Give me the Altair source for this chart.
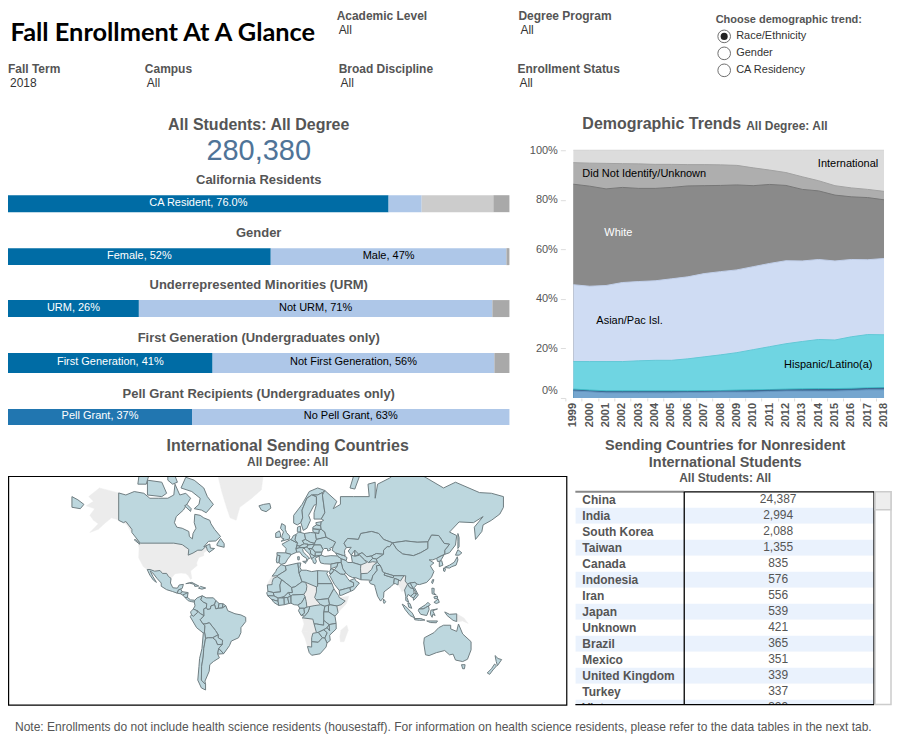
import math
import altair as alt

FONT = "Liberation Sans"
GREY_TXT = "#555555"
DARK_TXT = "#333333"

# ---------- values ----------
title_text = "Fall Enrollment At A Glance"
filters = [("Academic Level", "All", 329, 8), ("Degree Program", "All", 511, 8),
           ("Fall Term", "2018", 0, 61), ("Campus", "All", 137, 61),
           ("Broad Discipline", "All", 331, 61), ("Enrollment Status", "All", 510, 61)]
radio_title = "Choose demographic trend:"
radio_options = ["Race/Ethnicity", "Gender", "CA Residency"]
total_title = "All Students: All Degree"
total_value = "280,380"

BLUE, LIGHT, MID, DGREY, PELL = "#006ca5", "#aec7e8", "#cccccc", "#a9a9a9", "#2176b0"
ca_shares = [75.9, 6.6, 14.3, 3.2]
ca_labels = ["CA Resident, 76.0%", "", "", ""]
ca_colors = [BLUE, LIGHT, MID, DGREY]
gender_shares = [52.4, 47.0, 0.6]
gender_labels = ["Female, 52%", "Male, 47%", ""]
gender_colors = [BLUE, LIGHT, DGREY]
urm_shares = [26.1, 70.5, 3.4]
urm_labels = ["URM, 26%", "Not URM, 71%", ""]
urm_colors = [BLUE, LIGHT, DGREY]
first_shares = [40.8, 56.2, 3.0]
first_labels = ["First Generation, 41%", "Not First Generation, 56%", ""]
first_colors = [BLUE, LIGHT, DGREY]
pell_shares = [36.7, 63.3]
pell_labels = ["Pell Grant, 37%", "No Pell Grant, 63%"]
pell_colors = [PELL, LIGHT]

years = list(range(1999, 2019))
top_international = [100] * 20
top_unknown = [95.0, 94.8, 94.7, 94.6, 94.5, 94.3, 94.3, 94.2, 94.2, 94.1, 93.9, 92.9, 92.0, 91.0, 89.3, 87.7, 85.7, 84.8, 84.2, 83.4]
top_white = [86.3, 85.5, 84.4, 85.0, 84.6, 84.6, 85.0, 85.6, 85.7, 85.8, 86.0, 85.7, 86.2, 85.8, 84.2, 83.6, 81.9, 81.2, 80.9, 80.0]
top_asian = [45.7, 45.1, 45.4, 46.6, 47.0, 47.3, 48.1, 48.9, 50.2, 51.0, 51.7, 53.0, 54.3, 55.4, 55.3, 55.9, 55.3, 55.9, 55.8, 56.3]
top_hispanic = [14.7, 14.7, 14.7, 14.7, 15.0, 15.2, 15.2, 15.8, 16.6, 17.4, 18.3, 19.5, 20.7, 21.9, 22.8, 23.6, 23.4, 24.7, 25.6, 25.5]
top_native = [3.6, 3.2, 2.9, 2.9, 2.9, 2.9, 2.9, 2.9, 3.0, 3.0, 3.2, 3.3, 3.4, 3.6, 3.7, 3.8, 3.8, 3.9, 4.1, 4.2]
top_dark = [3.2, 2.8, 2.5, 2.5, 2.5, 2.5, 2.5, 2.5, 2.6, 2.7, 2.8, 2.9, 3.1, 3.2, 3.3, 3.4, 3.4, 3.5, 3.8, 3.9]
top_black = [2.8, 2.5, 2.1, 2.1, 2.1, 2.1, 2.1, 2.2, 2.3, 2.4, 2.4, 2.4, 2.6, 2.8, 2.8, 2.8, 2.8, 3.0, 3.3, 3.3]
area_series = [(top_international, "#dcdcdc", "#d2d2d2"), (top_unknown, "#aeaeae", "#a2a2a2"),
               (top_white, "#8a8a8a", "#767676"), (top_asian, "#cfdcf3", "#c2d0ea"),
               (top_hispanic, "#6fd5e2", "#62c8d6"), (top_native, "#3fbac6", "#3fbac6"),
               (top_dark, "#3b6791", "#3b6791"), (top_black, "#75a6cf", "#6596c2")]
area_labels = [("International", 275, 14, "center", "black"), ("Did Not Identify/Unknown", 9, 24, "left", "black"),
               ("White", 31, 83, "left", "white"), ("Asian/Pac Isl.", 23, 171, "left", "black"),
               ("Hispanic/Latino(a)", 211, 215, "left", "black")]

table_countries = ["China", "India", "South Korea", "Taiwan", "Canada", "Indonesia", "Iran", "Japan",
                   "Unknown", "Brazil", "Mexico", "United Kingdom", "Turkey", "Vietnam"]
table_counts = ["24,387", "2,994", "2,088", "1,355", "835", "576", "556", "539", "421", "365", "351", "339", "337", "329"]
footnote = "Note: Enrollments do not include health science residents (housestaff). For information on health science residents, please refer to the data tables in the next tab."

# Map outlines: longitude / latitude
grey_lands = [
 [(-123,49),(-95,49),(-88,48.2),(-82.5,45.5),(-83,42),(-79,43.3),(-75,45),(-71.5,45),(-68,47.3),(-67,45),(-70,43.5),(-70,41.7),(-74,40.6),(-76,37),(-75.5,35.3),(-81,31.5),(-80,26),(-81,25.2),(-82.8,28),(-85,29.7),(-89,30),(-94,29.5),(-97.3,26),(-99.5,27.5),(-101,29.7),(-104.5,29.7),(-106.5,31.8),(-111,31.3),(-114.8,32.5),(-117.2,32.5),(-120.5,34.5),(-122.5,37.7),(-124.3,40.3),(-124,46.3),(-124.7,48.4)],
 [(-141,69.6),(-141,60),(-137,59),(-135,59.5),(-130,56),(-131,55),(-134,58),(-140,60),(-147,61),(-152,59),(-158,56),(-165,54.5),(-158,58.5),(-162,60),(-165,62),(-161,64.5),(-168,65.5),(-162,67),(-166,68.5),(-157,71),(-150,70.4)],
 [(-73,78),(-60,76),(-55,70),(-51,65),(-48,61),(-43,60),(-40,65),(-30,68),(-22,70.5),(-20,75),(-18,80),(-30,83.5),(-60,82.5)],
 [(-17,21),(-13,21.3),(-13,23),(-12,26),(-8.7,27.3),(-8.7,28),(-13,27.7),(-16,23.5)],
 [(61,35.6),(66,37.3),(71,37.8),(74.9,37.4),(71.5,35.5),(70,32.5),(66.5,29.8),(61,29.5),(60.8,33)],
 [(92,21),(92.5,25),(94,24),(97,28),(98.5,28),(98,24),(100,21.7),(97.5,17),(98.5,12),(97.5,16.5),(95,15.8),(94,18.5)],
 [(141,-2.6),(147,-6),(150.5,-10.5),(146,-8.5),(143,-9),(141,-9)],
 [(15,23),(24,19.5),(24,15.5),(22.5,11),(19,9),(15.5,7.5),(14.5,11.5),(13.5,13.5),(15.5,16.5),(16,20)],
 [(15.5,7.5),(19,9),(22.5,11),(24,9),(27.5,5),(22,4.2),(16,3)],
 [(43,11),(51,12),(49,6),(42,-1.5),(41,4),(44.5,5),(48,8)],
 [(12.2,-6),(13,-6),(21,-7),(22,-11),(24,-11),(24,-18),(13,-17),(11.8,-17),(13.7,-11)],
 [(11.8,-17),(13,-17),(24,-18),(21,-18.5),(20,-22),(20,-29),(16.5,-28.6),(14.5,-22.5)],
 [(49.3,-12),(50.5,-16),(47,-25),(44,-25),(43.5,-21),(44.5,-16)],
]
americas = [
 [(-141,69.6),(-135,69),(-128,70),(-120,69.5),(-115,68),(-108,68),(-100,68),(-95,69),(-94,72),(-90,69),(-85,69.5),(-81,68),(-87,64),(-93,61.5),(-94.5,59),(-92.5,57),(-88,56.5),(-82.5,55),(-82,52.5),(-79.5,51.3),(-79,54),(-76.5,56.5),(-78,59),(-77.5,62.4),(-73,62),(-70,61),(-65,60),(-64,58.5),(-61,56),(-56,52.5),(-60,50.2),(-66,50),(-70,47),(-65,48.5),(-64.5,46.2),(-61,46),(-65.5,43.7),(-67,45),(-68,47.3),(-71.5,45),(-75,45),(-79,43.3),(-83,42),(-82.5,45.5),(-88,48.2),(-95,49),(-123,49),(-130,54.5),(-130,56),(-135,59.5),(-137,59),(-141,60)],
 [(-62,66),(-68,63),(-72,64),(-78,64.5),(-74,66),(-73,68),(-80,70),(-89,71),(-85,73.7),(-78,73),(-70,71),(-67,68.5)],
 [(-117,69),(-105,68.5),(-101,69.5),(-105,72.5),(-117,73)],
 [(-90,76.5),(-80,76.5),(-75,79),(-62,82.5),(-72,83),(-90,81.5)],
 [(-92,74.5),(-80,74.5),(-80,75.8),(-92,76.5)],
 [(-125,72),(-118,72),(-116,74),(-124,74.2)],
 [(-100,73),(-96,72),(-92,72.5),(-94,74),(-100,74)],
 [(-86,65.5),(-81,63.5),(-80.5,64.5),(-84,66)],
 [(-59,47.7),(-53,46.7),(-53,48.7),(-56,51.5),(-59,48.5)],
 [(-128,50.8),(-123.5,48.4),(-124,49.5),(-127,51)],
 [(-117.2,32.5),(-114.8,32.5),(-111,31.3),(-106.5,31.8),(-104.5,29.7),(-101,29.7),(-99.5,27.5),(-97.3,26),(-97.8,22.5),(-95.8,18.8),(-92,18.5),(-90.5,21),(-87,21.5),(-88,18.3),(-89.2,17.8),(-91,17.2),(-92.2,14.5),(-96,15.8),(-101,17.3),(-105.5,20),(-105.5,22.5),(-109,26),(-112.5,30),(-114.7,31.5),(-112.5,27.5),(-109.5,23),(-112,24.7),(-115,28.5)],
 [(-92.2,14.5),(-91,17.2),(-89.2,17.8),(-88.2,15.7),(-89.5,14)],
 [(-89.5,14),(-88.2,15.7),(-83.2,15),(-83.7,13),(-87.5,13)],
 [(-87.5,13),(-83.2,15),(-83.6,11),(-85.7,11)],
 [(-85.7,11),(-83.6,11),(-81,9),(-77.5,8.7),(-77.9,7.2),(-80,7.5),(-83,8.3)],
 [(-85,22),(-80,23),(-74.2,20.2),(-77.5,19.9),(-78,21.5),(-82,22.5)],
 [(-74.4,18.5),(-72.7,19.9),(-68.4,18.6),(-71.5,17.7)],
 [(-77.9,7.2),(-77.5,8.7),(-75.5,10.7),(-71.3,12.4),(-72.5,9),(-70,7),(-67.5,6),(-67.8,2.5),(-70,1.5),(-69.8,-4.2),(-73,-2.3),(-75.5,0),(-78.8,1.4),(-77.3,4)],
 [(-71.3,12.4),(-68,10.7),(-62,10.7),(-60,8.5),(-61,5),(-64,4),(-64.5,1.5),(-67,1),(-67.8,2.5),(-67.5,6),(-70,7),(-72.5,9)],
 [(-60,8.5),(-57.2,6),(-58,2),(-60,1.5),(-61,5)],
 [(-57.2,6),(-54,5.8),(-54.5,2.3),(-58,2)],
 [(-54,5.8),(-51.6,4.2),(-54.5,2.3)],
 [(-78.8,1.4),(-75.5,0),(-75.3,-1.6),(-78.7,-4.7),(-80.3,-3.4),(-81,-1)],
 [(-80.3,-3.4),(-78.7,-4.7),(-75.3,-1.6),(-75.5,0),(-73,-2.3),(-69.8,-4.2),(-73,-7.5),(-70.5,-11),(-69,-12.5),(-69.4,-17.5),(-70.4,-18.3),(-76,-14),(-81.3,-5)],
 [(-69.8,-4.2),(-70,1.5),(-67.8,2.5),(-67,1),(-64.5,1.5),(-64,4),(-61,5),(-60,1.5),(-58,2),(-54.5,2.3),(-51.6,4.2),(-50,0),(-44,-2.5),(-39,-3.5),(-35,-5.5),(-35,-9),(-39,-14),(-39,-18),(-41,-22),(-47,-24.5),(-48.6,-28),(-53.4,-33.7),(-57.6,-30),(-54.6,-27),(-54.5,-25.5),(-54.3,-24),(-58,-22),(-58,-19.7),(-60.2,-16.3),(-65.3,-10),(-69,-11),(-70.5,-11),(-73,-7.5)],
 [(-69,-12.5),(-70.5,-11),(-69,-11),(-65.3,-10),(-60.2,-16.3),(-58,-19.7),(-62.6,-22),(-66.3,-22),(-68.5,-22.5),(-69.4,-17.5)],
 [(-58,-19.7),(-58,-22),(-54.3,-24),(-54.5,-25.5),(-54.6,-27),(-58.6,-27.2),(-60,-24),(-62.6,-22)],
 [(-70.4,-18.3),(-69.4,-17.5),(-68.5,-22.5),(-70,-30),(-70.5,-36),(-71.8,-42),(-72,-50),(-68.5,-52.3),(-68.5,-55),(-72,-54),(-75,-50),(-74,-42),(-73.5,-37),(-71.5,-30)],
 [(-66.3,-22),(-62.6,-22),(-60,-24),(-58.6,-27.2),(-54.6,-27),(-57.6,-30),(-58.4,-34),(-57,-36.5),(-62,-39),(-65,-41),(-65.5,-45),(-69,-50.5),(-68.5,-52.3),(-72,-50),(-71.8,-42),(-70.5,-36),(-70,-30),(-68.5,-22.5)],
 [(-57.6,-30),(-53.4,-33.7),(-58.4,-34)],
]
europe = [
 [(-24,65.5),(-22,64),(-18,63.4),(-14,64.7),(-15,66.3),(-20,66)],
 [(-5.5,50),(1.3,51.2),(1.7,52.7),(-1,54.5),(-2,56),(-2,57.7),(-5,58.6),(-6,56.5),(-3.5,54.8),(-4.8,52.8),(-5,51.7),(-3,51.3)],
 [(-10,52),(-6,52.2),(-6,54),(-7,55.3),(-10,54.2)],
 [(-1.8,43.4),(3.1,42.4),(7.5,43.8),(7,45.9),(7.6,47.6),(8.2,49),(2.5,51),(-1.5,49.6),(-4.8,48.4),(-1.2,46)],
 [(-9,43.5),(-1.8,43.4),(3.1,42.4),(0,39.5),(-2,36.8),(-5.5,36),(-7.4,37.2),(-6.5,41.7),(-8.8,42)],
 [(-8.8,42),(-6.5,41.7),(-7.4,37.2),(-9,37),(-9.5,38.8)],
 [(7,53.5),(9,54.8),(14,54),(15,51),(12.2,50.3),(13.8,48.7),(10,47.4),(7.6,47.6),(8.2,49),(6,50.8)],
 [(2.5,51),(3.4,51.4),(4.8,53),(7,53.5),(6,50.8),(8.2,49)],
 [(7,45.9),(10.3,46.5),(10,47.4),(7.6,47.6)],
 [(7.5,43.8),(10,44),(12.5,41.5),(15.7,40),(16,38),(16.8,39.5),(18.4,40),(16,41.7),(13,44),(12.5,45.5),(13.7,46.5),(10.3,46.5),(7,45.9)],
 [(12.5,38),(15.5,38.2),(15,36.7)],
 [(8.3,41),(9.7,41),(9.6,39),(8.5,39)],
 [(10,47.4),(13.8,48.7),(17,48.5),(16,46.8),(13.7,46.5),(10.3,46.5)],
 [(12.2,50.3),(15,51),(19,49.5),(22.5,49),(22,48.4),(17,48),(17,48.5),(13.8,48.7)],
 [(14,54),(19,54.5),(23,54.3),(24,51),(22.5,49),(19,49.5),(15,51)],
 [(8,55),(9,54.8),(11,54.8),(10.5,57.5),(8.2,57)],
 [(5,58.8),(8,58),(11,59),(12.5,61),(12,64),(16,68),(20,69),(25,69),(29,69.7),(31,70.3),(25,71),(18,70),(12,66),(5,62)],
 [(11,59),(13,55.5),(16,56.5),(19,60),(17.5,62),(22,65.7),(24,66),(24,68.5),(20,69),(16,68),(12,64),(12.5,61)],
 [(22,60.5),(28,60.5),(31,63),(29,69),(29,69.7),(25,69),(21,69),(24,68.5),(24,66),(22,63)],
 [(23.5,59),(28,59.4),(27.5,57.6),(24,58)],
 [(21,57),(24,58),(27.5,57.6),(28,56),(21,56.2)],
 [(21,56.2),(26.5,55.8),(26,54),(23,54.3),(21,55)],
 [(23,54.3),(26,54),(26.5,55.8),(28,56),(31,54.7),(32,52.2),(24,51)],
 [(24,51),(32,52.2),(40,49.6),(38,47),(35,46),(36,45.2),(33.5,44.5),(33,46),(30.5,46),(29.5,45.3),(27.5,48),(22.5,48),(22.5,49)],
 [(22,48),(27.5,48),(29.5,45.3),(28.6,43.8),(23,43.8),(20.3,46)],
 [(16,46.8),(17,48),(22,48.4),(22,48),(20.3,46),(17,46)],
 [(23,43.8),(28.6,43.8),(28,42),(22.7,41.3)],
 [(13.7,46.5),(16,46.8),(17,46),(19,45),(19,43),(18.5,42.4),(14.5,45.2)],
 [(19,45),(20.3,46),(23,43.8),(22.7,41.3),(20.5,42.2),(19,43)],
 [(18.5,42.4),(19,43),(20.5,42.2),(22.7,41.3),(20.5,40),(19.4,40.3)],
 [(19.4,40),(20.5,40),(22.7,41.3),(26.3,41.5),(23,40),(24,38),(23,36.5),(21.5,37),(21,38.5)],
 [(26.3,41.5),(28,42),(31,41.2),(36,41.7),(41.5,41.5),(44.7,39.7),(44.7,37.2),(42,37.2),(36,36.2),(30.5,36.4),(27.5,37),(26.3,39.5)],
 [(40,43.4),(46.5,41.8),(49.5,40.5),(48.8,38.5),(44.7,39.7),(41.5,41.5)],
]
north_asia = [
 [(28,59.4),(30,60),(28,60.5),(31,63),(29,69),(31,70.3),(41,67),(38,64.5),(44,66),(44,68.5),(55,68.5),(68,68.5),(67,72),(73,72.5),(73,68),(75,72),(85,73.5),(100,76.5),(113,74),(130,71),(140,72.5),(160,69.7),(170,69.5),(180,68.5),(180,65),(177,62.5),(170,60),(163,58),(162,55),(156.7,51),(155.7,57),(163,61.5),(155,59),(143,59.3),(135,54.7),(141,53),(140,48),(135,43.5),(131,42.5),(131,45),(135,48.4),(130.5,48.9),(126,53),(120,53.2),(117,49.7),(108,49.5),(98.5,50.2),(87.5,49.2),(80,51),(76,54),(70,55),(61,54),(59,51),(50,51.5),(47,49),(49,46.5),(47.5,45),(47.5,43),(48,41.8),(46.5,41.8),(40,43.4),(37,45),(38,47),(40,49.6),(32,52.2),(31,54.7),(28,56),(27.5,57.6)],
 [(-180,68.5),(-175,67.5),(-170,66),(-173,64.5),(-180,65)],
 [(142,54),(143,52),(143,47),(142,46),(142,50)],
 [(52,71),(56,70.7),(60,74),(55,74)],
 [(47,49),(50,51.5),(59,51),(61,54),(70,55),(76,54),(80,51),(87.5,49.2),(85,47),(83,47),(80,45),(80,42.5),(74,43),(70,41.5),(66,41),(62,43.5),(56,41.3),(56,45),(53,42),(50.5,44.5),(53,46.7),(49,46.5)],
 [(56,45),(56,41.3),(62,43.5),(66,41),(70,41.5),(71,40),(67.5,37.3),(64,39),(60,42)],
 [(53,42),(56,41.3),(60,42),(64,39),(66,37.3),(61,35.6),(54,37.3)],
 [(70,41.5),(74,43),(80,42.5),(74,39.5),(71,40)],
 [(67.5,37.3),(71,40),(74,39.5),(74.9,37.4),(71,37.8)],
 [(87.5,49.2),(98.5,50.2),(108,49.5),(117,49.7),(117,46),(111,43.5),(105,41.7),(96,42.7),(91,45.5)],
 [(74,39.5),(80,42.5),(80,45),(83,47),(85,47),(87.5,49.2),(91,45.5),(96,42.7),(105,41.7),(111,43.5),(117,46),(117,49.7),(120,53.2),(126,53),(130.5,48.9),(135,48.4),(131,45),(131,42.5),(128,41.5),(124.3,40),(121,39),(118,39),(122,37),(119,35),(122,31),(120,27),(116,23),(110,21.3),(108,21.6),(106,23),(102,22.5),(100,21.7),(98,24),(98.5,28),(97,28),(92,28),(88.5,28),(81,30),(79,31),(78.5,33),(77,35.5),(74.9,37.4)],
 [(124.3,40),(128,41.5),(130.5,42.3),(128,39),(126.5,38),(125,38)],
 [(126.5,38),(128.5,38.5),(129.5,35.5),(126.5,34.5)],
 [(130.9,34),(135,35.5),(139,37.5),(141.5,41),(142,39),(140.5,35.5),(137,34.5),(135,33.5),(132,33.8)],
 [(140,42),(142,45.3),(145.3,43.4),(143,42)],
 [(130,33.5),(131.7,33),(131,31),(130,31.5)],
 [(121,25.2),(122,25),(120.8,22),(120,23)],
]
south_asia = [
 [(61,29.5),(61,25),(67,24.8),(70,24.5),(71,28),(74.7,32),(74,35),(77,35.5),(74.9,37.4),(71.5,35.5),(70,32.5),(66.5,29.8)],
 [(44.7,39.7),(48.8,38.5),(50,37.3),(54,37.3),(61,35.6),(60.8,33),(61,29.5),(61,25),(57,26.5),(54,26.7),(51,28),(48.5,30),(46,33),(44.7,37.2)],
 [(44.7,37.2),(46,33),(48.5,30),(46.5,29),(44,29.2),(39,32.3),(41,34.5),(42,37.2)],
 [(36,36.2),(42,37.2),(41,34.5),(36,33)],
 [(35,31),(36,33),(39,32.3),(37,30),(35,29.5)],
 [(35,28.2),(37,30),(39,32.3),(44,29.2),(46.5,29),(48,28.7),(50,26),(51.5,24.3),(55,22.8),(55,20),(52,19),(48,18),(43,16.7),(39,21.5)],
 [(43,16.7),(48,18),(52,19),(52.5,16),(45,12.8),(43.4,12.7)],
 [(51.5,24.3),(56,26),(56.5,24.5),(59.8,22.5),(55,17),(52.5,16),(52,19),(55,20),(55,22.8)],
 [(68,23.7),(70,24.5),(71,28),(74.7,32),(74,35),(77,35.5),(78.5,33),(79,31),(81,30),(80.5,28.5),(88,26.5),(88.5,28),(92,28),(97,28),(94,24),(92.5,25),(89,26),(88.5,22),(86.5,20),(80.3,15.5),(80,11),(77.5,8),(75,12),(73,19),(72.5,21),(69,22)],
 [(88.5,22),(89,26),(92.5,25),(92,21),(90,22)],
 [(80.5,28.5),(81,30),(88.5,28),(88,26.5)],
 [(80,9.7),(81.8,7.5),(80.5,6),(79.8,7.5)],
 [(100,21.7),(102,19),(105,18),(105.5,14.5),(102.5,12),(100.5,13.5),(99.5,11),(101,7),(98.5,8.5),(98.5,12),(97.5,17)],
 [(102,22.5),(106,23),(108,21.6),(105.7,19),(109,13),(107,10.5),(105,8.7),(104.8,10.5),(107.5,14),(105,18)],
 [(100,21.7),(102,22.5),(105,18),(102,19)],
 [(102.5,12),(105.5,14.5),(107.5,14),(104.8,10.5)],
 [(100.2,6.5),(102,6),(103.5,2),(101,3)],
 [(109.5,1.5),(115,5),(117,7),(119,5),(117.5,4),(115,2.5),(113,1.5)],
 [(109.5,1.5),(113,1.5),(115,2.5),(117.5,4),(118,1),(116,-4),(111,-3),(109,0)],
 [(95.5,5.5),(98,4),(104,-2),(106,-6),(102,-4),(98,1)],
 [(105.5,-6.5),(111,-6.5),(114.5,-7.8),(110,-8),(106,-7.5)],
 [(119.5,0.5),(125,1.5),(121,0),(123,-4),(121,-3),(120.5,-5.5),(119,-3)],
 [(120.3,18.5),(122.2,18.3),(122,14.5),(124,13),(120.5,14)],
 [(122,7),(125.5,9.7),(126.5,7),(124,6)],
 [(122,11.5),(125,12),(125,10),(122.5,10)],
 [(116,-8.5),(125,-8.5),(124,-10),(119,-9.8)],
 [(131,-1),(135,-3),(141,-2.6),(141,-9),(138,-8),(133,-4)],
 [(114,-22),(113.5,-26),(115,-34.5),(118,-35),(124,-33),(131,-31.5),(135,-34.5),(138,-34),(140,-38),(146,-39),(150,-37.5),(153,-31),(153,-25),(146,-19),(142.5,-11),(141,-17),(136,-15),(136,-12),(130,-12),(126,-14),(122,-18)],
 [(145,-41),(148,-41),(147.5,-43.5),(146,-43.5)],
 [(166.5,-46),(168.5,-46.8),(171.3,-44.2),(174.3,-41.7),(172.6,-40.6),(170,-43.5)],
 [(173,-35),(175.5,-37),(178.5,-37.7),(175,-41.6),(174,-39)],
]
africa = [
 [(-13,27.7),(-10,31),(-9,33),(-5.5,35.8),(-2,35),(-1.2,32),(-5,30),(-8.7,28)],
 [(-2,35),(-1.2,32),(-5,30),(-8.7,28),(-8.7,27.3),(-5,25),(3.3,19),(6,19.5),(12,23.5),(9.5,30),(8.5,36.9)],
 [(8.5,36.9),(11,37),(10.2,34),(11.5,32),(9.5,30)],
 [(9.5,30),(11.5,32),(15.5,32),(20,31),(25,31.7),(25,20),(24,19.5),(15,23),(12,23.5)],
 [(25,31.7),(34,31.3),(32.5,29.8),(34,27),(37,22),(25,22)],
 [(-17,21),(-13,21.3),(-13,23),(-12,26),(-8.7,27.3),(-5,25),(-6.5,21),(-6,15.5),(-12,15),(-16.5,16)],
 [(-5,25),(3.3,19),(4,15),(0.5,15),(-3,11.7),(-8,10.5),(-11.5,12.3),(-12,15),(-6,15.5),(-6.5,21)],
 [(3.3,19),(6,19.5),(12,23.5),(15,23),(16,20),(15.5,16.5),(13.5,13.5),(4,13),(2.5,12),(0.5,15),(4,15)],
 [(2.7,12),(4,13),(13.5,13.5),(14.5,11.5),(11.5,6.5),(8.5,4.7),(5.5,5),(2.7,6.3)],
 [(24,19.5),(25,20),(25,22),(37,22),(38.5,18),(36.5,14.5),(34,10),(24,9),(22.5,11),(24,15.5)],
 [(24,9),(34,10),(35,5),(31,3.7),(27.5,5)],
 [(36.5,14.5),(38.5,18),(42.5,12.5),(43,11),(48,8),(44.5,5),(41,4),(35,5),(34,10)],
 [(35,5),(41,4),(42,-1.5),(39.5,-4.6),(34,-1),(34,4)],
 [(31,3.7),(35,5),(34,4),(34,-1),(30,-1)],
 [(30,-1),(34,-1),(39.5,-4.6),(40.4,-10.5),(34.5,-11.5),(30,-8)],
 [(18.5,3.5),(22,4.2),(27.5,5),(31,3.7),(30,-1),(30,-8),(30,-12),(24,-11),(22,-11),(21,-7),(13,-6),(12.2,-6),(14,-4.5),(17,-1)],
 [(11.2,-4),(14,-4.5),(17,-1),(18.5,3.5),(16,3),(14,2.2),(13.5,1.3),(14,-2)],
 [(9,0),(10,2.2),(14,2.2),(13.5,1.3),(14,-2),(11.2,-4)],
 [(8.5,4.7),(11.5,6.5),(14.5,11.5),(15.5,7.5),(16,3),(14,2.2),(10,2.2)],
 [(-17.5,14.7),(-16.5,16),(-12,15),(-11.5,12.3),(-16.7,12.4)],
 [(-16.7,12.4),(-11.5,12.3),(-8,10.5),(-8,8),(-10.5,8.5),(-13.5,9.5)],
 [(-13.5,9.5),(-10.5,8.5),(-8,8),(-7.5,4.4),(-11.5,6.9)],
 [(-8,8),(-8,10.5),(-5,10.7),(-3,10.8),(-2.8,5),(-7.5,4.4)],
 [(-5,10.7),(-3,11.7),(0.5,15),(2.5,12),(0,11),(-3,10.8)],
 [(-3,10.8),(0,11),(1,6),(-2.8,5)],
 [(0,11),(2.5,12),(2.7,6.3),(1,6)],
 [(22,-11),(24,-11),(30,-12),(30,-8),(34.5,-11.5),(33,-14),(30,-15.7),(25.5,-17.8),(24,-18)],
 [(25.5,-17.8),(30,-15.7),(33,-18),(31,-22.3),(29,-22)],
 [(20,-22),(21,-18.5),(24,-18),(25.5,-17.8),(29,-22),(25.5,-25.5),(20,-25)],
 [(34.5,-11.5),(40.4,-10.5),(40.5,-15),(35,-20),(35.5,-24),(32.8,-26),(31,-22.3),(33,-18),(30,-15.7),(33,-14),(35,-16.5)],
 [(33,-14),(34.5,-11.5),(35,-16.5)],
 [(16.5,-28.6),(20,-29),(20,-25),(25.5,-25.5),(29,-22),(31,-22.3),(32.8,-26),(32,-29),(27,-33.8),(20,-34.8),(18,-33)],
]

# ---------- helpers ----------
def label(text, x, y, size=12, bold=False, color=GREY_TXT, align="left", font=FONT):
    return alt.Chart(alt.Data(values=[{"t": text}])).mark_text(
        align=align, baseline="middle", fontSize=size, font=font,
        fontWeight="bold" if bold else "normal", color=color
    ).encode(x=alt.value(x), y=alt.value(y), text="t:N")

def bar_section(title, shares, labels, colors, section_h, title_y, bar_top, bar_bot):
    rows, start = [], 0
    for s, l, c in zip(shares, labels, colors):
        rows.append({"a": start, "b": start + s, "m": start + s / 2, "l": l, "c": c,
                     "tc": "white" if c in (BLUE, PELL) else "black"})
        start += s
    base = alt.Chart(alt.Data(values=rows))
    xs = alt.Scale(domain=[0, 100], nice=False)
    bars = base.mark_bar().encode(
        x=alt.X("a:Q", scale=xs, axis=None), x2="b:Q",
        y=alt.value(bar_top), y2=alt.value(bar_bot),
        color=alt.Color("c:N", scale=None))
    texts = base.mark_text(fontSize=11, font=FONT, baseline="middle").encode(
        x=alt.X("m:Q", scale=xs, axis=None), y=alt.value((bar_top + bar_bot) / 2 - 1),
        text="l:N", color=alt.Color("tc:N", scale=None))
    return alt.layer(bars, texts, label(title, 251, title_y, 13, True, align="center")).properties(
        width=502, height=section_h)

MERC_R = 432 / (2 * math.pi)
def merc(ring):
    out = []
    for lon, lat in ring:
        lat = max(min(lat, 85), -85)
        out.append([math.radians(lon), math.log(math.tan(math.pi / 4 + math.radians(lat) / 2))])
    out.append(out[0])
    return out

def features(groups, status):
    return [{"type": "Feature", "properties": {"s": status},
             "geometry": {"type": "Polygon", "coordinates": [merc(r)]}} for r in groups]

# ---------- header ----------
header_layers = [label(title_text, 2.5, 25, 25.4, True, "black", font="Lato")]
for name, val, x, y in filters:
    header_layers.append(label(name, x, y, 12, True))
    header_layers.append(label(val, x + 2, y + 14, 12, False, DARK_TXT))
header_layers.append(label(radio_title, 708.5, 12, 11, True))
for i, opt in enumerate(radio_options):
    cy = 28 + 17 * i
    header_layers.append(label(opt, 729, cy, 11, False, DARK_TXT))
    header_layers.append(alt.Chart(alt.Data(values=[{"o": opt}])).mark_point(
        shape="circle", filled=False, size=160, color="#333333", strokeWidth=1
    ).encode(x=alt.value(717), y=alt.value(cy)))
header_layers.append(alt.Chart(alt.Data(values=[{"o": radio_options[0]}])).mark_point(
    shape="circle", filled=True, size=50, color="#222222", opacity=1
).encode(x=alt.value(717), y=alt.value(28)))
header = alt.layer(*header_layers).properties(width=884, height=100)

# ---------- left bars ----------
total_panel = alt.layer(
    label(total_title, 251, 17, 16, True, align="center"),
    label(total_value, 251, 42.5, 29, False, "#4f7498", align="center"),
).properties(width=502, height=57)
s1 = bar_section("California Residents", ca_shares, ca_labels, ca_colors, 54, 15, 30, 47)
s2 = bar_section("Gender", gender_shares, gender_labels, gender_colors, 53, 14, 29, 46)
s3 = bar_section("Underrepresented Minorities (URM)", urm_shares, urm_labels, urm_colors, 53, 13, 28, 45)
s4 = bar_section("First Generation (Undergraduates only)", first_shares, first_labels, first_colors, 56, 13, 28, 48)
s5 = bar_section("Pell Grant Recipients (Undergraduates only)", pell_shares, pell_labels, pell_colors, 49, 13, 28, 44)
left_col = alt.vconcat(total_panel, s1, s2, s3, s4, s5, spacing=0, bounds="flush")

# ---------- area chart ----------
xax = alt.Axis(values=years, format="d", labelAngle=-90, labelFontSize=11, labelFontWeight="bold",
               labelColor=GREY_TXT, labelFont=FONT, tickColor="#dddddd", tickSize=3, tickOffset=-8,
               labelOffset=7.5, domain=False, grid=False, title=None, labelPadding=1.5, offset=0,
               labelAlign="right", labelBaseline="middle", labelOverlap=False, labelFlush=False)
yax = alt.Axis(values=[0, 20, 40, 60, 80, 100], labelExpr="datum.value + '%'", labelFontSize=11,
               labelColor=GREY_TXT, labelFont=FONT, tickColor="#dddddd", tickSize=5, domain=False,
               grid=False, title=None, offset=8, labelPadding=3,
               labelOffset={"condition": {"test": "datum.value == 0", "value": -7}, "value": 0})
area_layers = []
for vals, fill, line in area_series:
    rows = [{"year": yr, "v": v} for yr, v in zip(years, vals)]
    area_layers.append(alt.Chart(alt.Data(values=rows)).mark_area(
        color=fill, opacity=1, line=alt.OverlayMarkDef(color=line, strokeWidth=1)
    ).encode(
        x=alt.X("year:Q", scale=alt.Scale(domain=[1999, 2018], nice=False), axis=xax),
        y=alt.Y("v:Q", scale=alt.Scale(domain=[0, 100], nice=False), axis=yax)))
for text, x, y, align, color in area_labels:
    area_layers.append(label(text, x, y, 11, False, color, align))
area = alt.layer(*area_layers).properties(width=311, height=248)
area_title = alt.layer(
    label("Demographic Trends", 9, 16, 16, True),
    label("All Degree: All", 173, 18, 12, True),
).properties(width=311, height=41.5)
right_col = alt.vconcat(area_title, area, spacing=0, bounds="flush")
middle = alt.hconcat(left_col, right_col, spacing=19)

# ---------- map ----------
map_proj = dict(type="identity", reflectY=True, scale=MERC_R, translate=[280, 135])
grey_map = alt.Chart(alt.Data(values=features(grey_lands, "other"))).mark_geoshape(
    fill="#ececec", stroke="#ececec", strokeWidth=0.5, clip=True).project(**map_proj)
blue_all = americas + europe + north_asia + south_asia + africa
blue_map = alt.Chart(alt.Data(values=features(blue_all, "sending"))).mark_geoshape(
    fill="#bdd7de", stroke="#6f7d82", strokeWidth=1, clip=True).project(**map_proj)
map_frame = alt.Chart(alt.Data(values=[{"a": 0}])).mark_rect(fillOpacity=0, stroke="black", strokeWidth=1.2).encode(
    x=alt.value(0.6), x2=alt.value(559.4), y=alt.value(0.6), y2=alt.value(229.5))
map_panel = alt.layer(grey_map, blue_map, map_frame).properties(width=560, height=230)
map_title = alt.layer(
    label("International Sending Countries", 280, 16, 16, True, align="center"),
    label("All Degree: All", 280, 32, 12, True, align="center"),
).properties(width=560, height=46)
map_col = alt.vconcat(map_title, map_panel, spacing=0, bounds="flush")

# ---------- table ----------
table_rows = [{"r": i, "r2": i + 1, "m": i + 0.5, "c": c, "n": n, "bg": "#eaf2fd" if i % 2 else "#ffffff"}
              for i, (c, n) in enumerate(zip(table_countries, table_counts))]
ys = alt.Scale(domain=[0, 213 / 16], reverse=True, nice=False)
tb = alt.Chart(alt.Data(values=table_rows))
bands = tb.mark_rect(clip=True).encode(
    x=alt.value(0), x2=alt.value(299),
    y=alt.Y("r:Q", scale=ys, axis=None), y2="r2:Q", color=alt.Color("bg:N", scale=None))
names = tb.mark_text(align="left", fontSize=12, fontWeight="bold", font=FONT, color=GREY_TXT, clip=True).encode(
    x=alt.value(7), y=alt.Y("m:Q", scale=ys, axis=None), text="c:N")
counts = tb.mark_text(align="center", fontSize=12, font=FONT, color=GREY_TXT, clip=True, dy=-1).encode(
    x=alt.value(203), y=alt.Y("m:Q", scale=ys, axis=None), text="n:N")
def table_rule(x, x2, y, y2, color="black", w=1.3):
    return alt.Chart(alt.Data(values=[{"a": 0}])).mark_rule(color=color, strokeWidth=w).encode(
        x=alt.value(x), x2=alt.value(x2), y=alt.value(y), y2=alt.value(y2))
scroll_box = alt.Chart(alt.Data(values=[{"a": 0}])).mark_rect(fillOpacity=0, stroke="#cccccc", strokeWidth=1.5).encode(
    x=alt.value(300), x2=alt.value(316), y=alt.value(0), y2=alt.value(213))
scroll_thumb = alt.Chart(alt.Data(values=[{"a": 0}])).mark_rect(fill="#eeeeee", stroke="#cccccc", strokeWidth=1.5).encode(
    x=alt.value(300), x2=alt.value(316), y=alt.value(0), y2=alt.value(18))
table = alt.layer(bands, names, counts,
                  table_rule(0, 109, 0, 0, "#888888", 2), table_rule(109, 299, 0, 0),
                  table_rule(109, 109, 0, 213), table_rule(299, 299, 0, 213), table_rule(0, 299, 213, 213),
                  scroll_box, scroll_thumb).properties(width=299, height=213)
table_title = alt.layer(
    label("Sending Countries for Nonresident", 150, 16.5, 14.5, True, align="center"),
    label("International Students", 150, 33.5, 14.5, True, align="center"),
    label("All Students: All", 150, 48, 12, True, align="center"),
).properties(width=299, height=62)
table_col = alt.vconcat(table_title, table, spacing=0, bounds="flush")
bottom = alt.hconcat(map_col, table_col, spacing=7)

foot = label(footnote, 7, 20, 12.05, False, GREY_TXT).properties(width=884, height=28)

chart = alt.vconcat(header, middle, bottom, foot, spacing=0).properties(
    padding=0, background="white"
).configure_view(stroke=None)

chart.save("out.html", embed_options={"renderer": "svg", "actions": False})
